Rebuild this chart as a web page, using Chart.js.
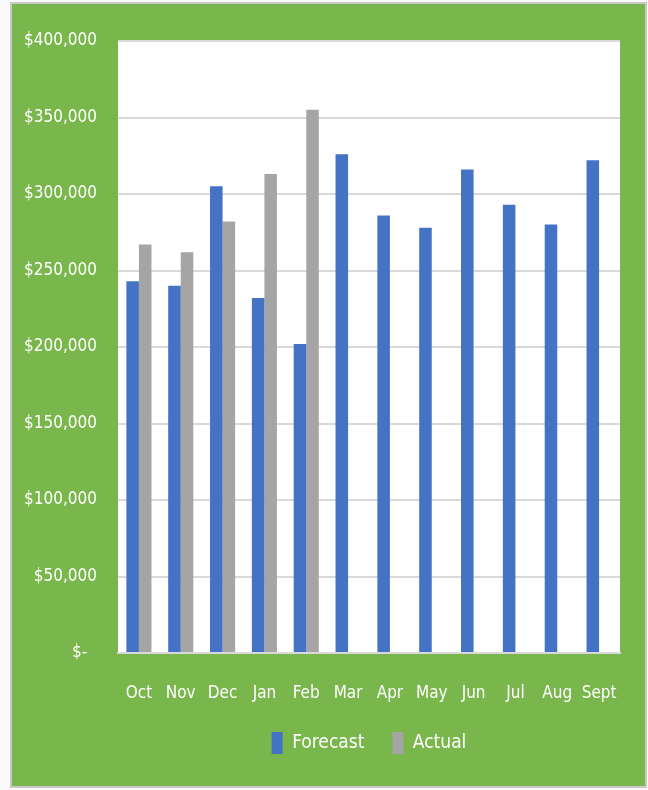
<!DOCTYPE html>
<html>
<head>
<meta charset="utf-8">
<script src="https://cdn.jsdelivr.net/npm/chart.js@4"></script>
<style>
  html, body { margin: 0; padding: 0; background: #fafafa; }
  #wrap { width: 648px; height: 790px; }
</style>
</head>
<body>
<div id="wrap"><canvas id="chart" width="648" height="790"></canvas></div>
<script>
const months = ["Oct", "Nov", "Dec", "Jan", "Feb", "Mar", "Apr", "May", "Jun", "Jul", "Aug", "Sept"];
const forecast = [243000, 240000, 305000, 232000, 202000, 326000, 286000, 278000, 316000, 293000, 280000, 322000];
const actual = [267000, 262000, 282000, 313000, 355000, null, null, null, null, null, null, null];

const FONT = "'DejaVu Sans Condensed', 'DejaVu Sans', sans-serif";
const GREEN = "#79b64b";

// green frame + white plot area, like the Excel chart
const backgroundPlugin = {
  id: "background",
  beforeDraw(chart) {
    const { ctx, chartArea } = chart;
    ctx.save();
    ctx.fillStyle = "#fafafa";
    ctx.fillRect(0, 0, chart.width, chart.height);
    ctx.fillStyle = "#c9c9c9";
    ctx.fillRect(10, 2, 637, 786);
    ctx.fillStyle = GREEN;
    ctx.fillRect(12, 4, 633, 782);
    ctx.fillStyle = "#ffffff";
    ctx.fillRect(chartArea.left, chartArea.top, chartArea.right - chartArea.left, chartArea.bottom - chartArea.top);
    ctx.restore();
  }
};

function formatMoney(value) {
  if (value === 0) return "$-  ";
  return "$" + value.toLocaleString("en-US");
}

new Chart(document.getElementById("chart"), {
  type: "bar",
  data: {
    labels: months,
    datasets: [
      {
        label: "Forecast",
        data: forecast,
        backgroundColor: "#4472c4",
        barPercentage: 1.0,
        categoryPercentage: 0.6
      },
      {
        label: "Actual",
        data: actual,
        backgroundColor: "#a5a5a5",
        barPercentage: 1.0,
        categoryPercentage: 0.6
      }
    ]
  },
  options: {
    responsive: false,
    animation: false,
    layout: { padding: { left: 12, right: 28, top: 41, bottom: 26 } },
    plugins: {
      tooltip: { enabled: false },
      legend: {
        position: "bottom",
        fullSize: false,
        labels: {
          color: "#ffffff",
          font: { family: FONT, size: 19 },
          boxWidth: 11,
          boxHeight: 22,
          padding: 28
        }
      }
    },
    scales: {
      x: {
        afterFit(scale) { scale.height = 51; },
        grid: { display: false },
        border: { color: "#d9d9d9", width: 2 },
        ticks: {
          color: "#ffffff",
          font: { family: FONT, size: 17 },
          padding: 22,
          maxRotation: 0,
          autoSkip: false
        }
      },
      y: {
        min: 0,
        max: 400000,
        afterFit(scale) { scale.width = 106; },
        grid: { color: "#d9d9d9", lineWidth: 2, drawTicks: false },
        border: { display: false },
        ticks: {
          stepSize: 50000,
          color: "#ffffff",
          font: { family: FONT, size: 17 },
          padding: 21,
          callback: formatMoney
        }
      }
    }
  },
  plugins: [backgroundPlugin]
});
</script>
</body>
</html>
